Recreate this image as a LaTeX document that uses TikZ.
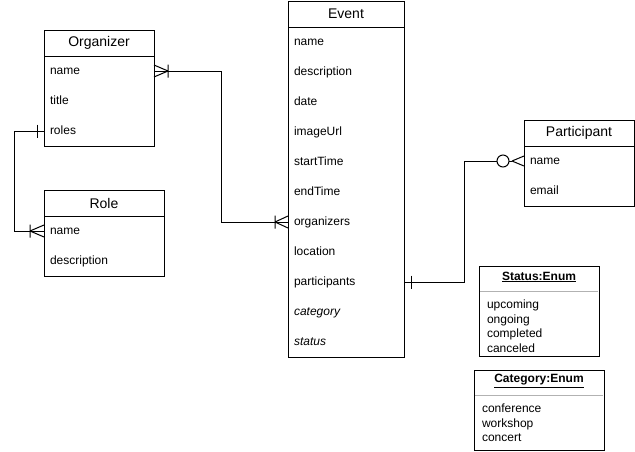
\documentclass[tikz,border=0pt]{standalone}
\usepackage{fontspec}
\setmainfont{Liberation Sans}
\usetikzlibrary{calc}
\begin{document}
\begin{tikzpicture}[x=1pt,y=-1pt,line width=1pt,every node/.style={outer sep=0pt},
  hdr/.style={draw,anchor=north west,inner sep=0pt,minimum height=26pt,font=\fontsize{14}{16}\selectfont},
  row/.style={anchor=north west,inner ysep=0pt,inner xsep=6pt,minimum height=30pt,text width=#1,align=left,
    text height=9pt,text depth=3pt,font=\fontsize{12}{14}\selectfont},
  enumbox/.style={draw,anchor=north west,inner sep=0pt},
  enumtitle/.style={inner sep=0pt,font=\fontsize{12}{14}\selectfont\bfseries},
  enumitems/.style={anchor=north west,inner sep=0pt,align=left,font=\fontsize{12}{14.5}\selectfont},
  sep/.style={draw=gray!60,line width=1pt}]
\useasboundingbox (0,0) rectangle (635,451);

% Organizer
\node[hdr,minimum width=110pt] (org) at (44,30) {Organizer};
\node[row=98pt] (orgname) at (org.south west) {name};
\node[row=98pt] (orgtitle) at (orgname.south west) {title};
\node[row=98pt] (orgroles) at (orgtitle.south west) {roles};
\draw (org.north west) rectangle (orgroles.south east);

% Role
\node[hdr,minimum width=120pt] (role) at (44,190) {Role};
\node[row=108pt] (rolename) at (role.south west) {name};
\node[row=108pt] (roledesc) at (rolename.south west) {description};
\draw (role.north west) rectangle (roledesc.south east);

% Event
\node[hdr,minimum width=116pt] (ev) at (288,1) {Event};
\node[row=104pt] (ev1) at (ev.south west) {name};
\node[row=104pt] (ev2) at (ev1.south west) {description};
\node[row=104pt] (ev3) at (ev2.south west) {date};
\node[row=104pt] (ev4) at (ev3.south west) {imageUrl};
\node[row=104pt] (ev5) at (ev4.south west) {startTime};
\node[row=104pt] (ev6) at (ev5.south west) {endTime};
\node[row=104pt] (evorg) at (ev6.south west) {organizers};
\node[row=104pt] (ev8) at (evorg.south west) {location};
\node[row=104pt] (evpart) at (ev8.south west) {participants};
\node[row=104pt] (ev10) at (evpart.south west) {\itshape category};
\node[row=104pt] (ev11) at (ev10.south west) {\itshape status};
\draw (ev.north west) rectangle (ev11.south east);

% Participant
\node[hdr,minimum width=110pt] (par) at (524,120) {Participant};
\node[row=98pt] (parname) at (par.south west) {name};
\node[row=98pt] (paremail) at (parname.south west) {email};
\draw (par.north west) rectangle (paremail.south east);

% Status enum
\node[enumbox,minimum width=120pt,minimum height=90pt] (stat) at (479,266) {};
\node[enumtitle] (stattitle) at ($(stat.north)+(0,11)$) {\underline{Status:Enum}};
\draw[sep] ($(stat.north west)+(1,25)$) -- ($(stat.north east)+(-1,25)$);
\node[enumitems] (statitems) at ($(stat.north west)+(8,34)$) {upcoming\\ongoing\\completed\\canceled};

% Category enum
\node[enumbox,minimum width=130pt,minimum height=80pt] (cat) at (474,370) {};
\node[enumtitle] (cattitle) at ($(cat.north)+(0,11)$) {\underline{Category:Enum}};
\draw[sep] ($(cat.north west)+(1,25)$) -- ($(cat.north east)+(-1,25)$);
\node[enumitems] (catitems) at ($(cat.north west)+(8,34)$) {conference\\workshop\\concert};

% Organizer -- Event (one-or-many both ends)
\draw (orgname.east) -- ($(orgname.east)+(67,0)$) |- (evorg.west);
\draw ($(orgname.east)+(14,0)$) -- ($(orgname.east)+(0,-6)$)
      ($(orgname.east)+(14,0)$) -- ($(orgname.east)+(0,6)$)
      ($(orgname.east)+(14,-6.5)$) -- ($(orgname.east)+(14,6.5)$);
\draw ($(evorg.west)+(-13,0)$) -- ($(evorg.west)+(0,-6)$)
      ($(evorg.west)+(-13,0)$) -- ($(evorg.west)+(0,6)$)
      ($(evorg.west)+(-13,-6.5)$) -- ($(evorg.west)+(-13,6.5)$);

% Organizer -- Role
\draw (orgroles.west) -- ($(orgroles.west)+(-30,0)$) |- (rolename.west);
\draw ($(orgroles.west)+(-7,-6.5)$) -- ($(orgroles.west)+(-7,6.5)$);
\draw ($(rolename.west)+(-14,0)$) -- ($(rolename.west)+(0,-6)$)
      ($(rolename.west)+(-14,0)$) -- ($(rolename.west)+(0,6)$)
      ($(rolename.west)+(-14,-6.5)$) -- ($(rolename.west)+(-14,6.5)$);

% Event -- Participant
\draw (evpart.east) -- ($(evpart.east)+(60,0)$) |- ($(parname.west)+(-27,0)$);
\draw ($(evpart.east)+(7,-6.5)$) -- ($(evpart.east)+(7,6.5)$);
\draw[fill=white] ($(parname.west)+(-21,0)$) circle[radius=6];
\draw ($(parname.west)+(-15,0)$) -- ($(parname.west)+(-12,0)$);
\draw ($(parname.west)+(-12,0)$) -- ($(parname.west)+(0,-5)$)
      ($(parname.west)+(-12,0)$) -- ($(parname.west)+(0,5)$);
\end{tikzpicture}
\end{document}
